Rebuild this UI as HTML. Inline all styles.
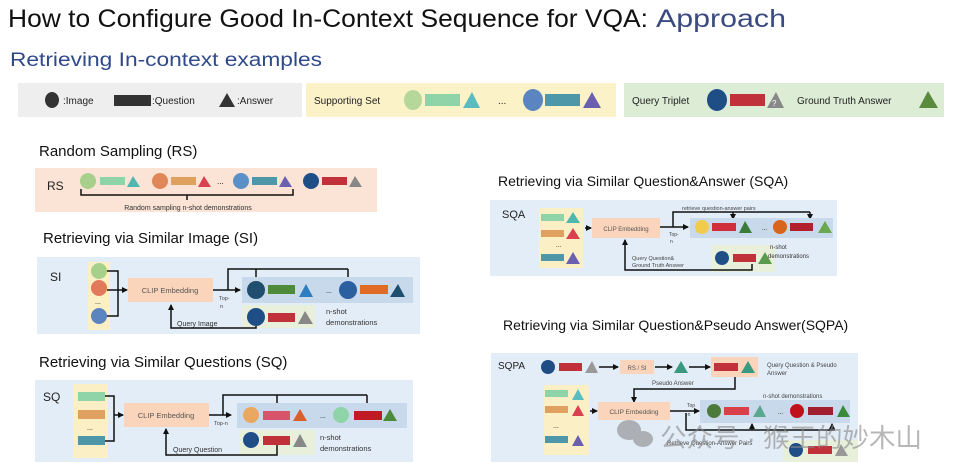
<!DOCTYPE html>
<html><head><meta charset="utf-8"><style>
html,body{margin:0;padding:0;background:#fff;}
svg{display:block;font-family:"Liberation Sans",sans-serif;}
</style></head><body>
<svg width="956" height="475" viewBox="0 0 956 475" xmlns="http://www.w3.org/2000/svg">
<defs><marker id="a" markerWidth="6" markerHeight="6" refX="5" refY="3" orient="auto" markerUnits="userSpaceOnUse"><path d="M0,0L6,3L0,6z" fill="#111"/></marker></defs>
<text x="8" y="27" font-size="25" fill="#111" textLength="640" lengthAdjust="spacingAndGlyphs">How to Configure Good In-Context Sequence for VQA:</text>
<text x="656" y="27" font-size="25" fill="#3b4a80" textLength="130" lengthAdjust="spacingAndGlyphs">Approach</text>
<text x="10" y="66" font-size="19" fill="#2f4a8a" textLength="312" lengthAdjust="spacingAndGlyphs">Retrieving In-context examples</text>
<!-- legend -->
<rect x="18" y="83" width="284" height="34" fill="#eeeeee"/>
<rect x="306" y="83" width="310" height="34" fill="#fbf2c8"/>
<rect x="624" y="83" width="320" height="34" fill="#dcecd5"/>
<g font-size="10" fill="#222">
<ellipse cx="52" cy="100" rx="7" ry="8" fill="#333"/><text x="63" y="104">:Image</text>
<rect x="114" y="95" width="37" height="11" fill="#333"/><text x="152" y="104">:Question</text>
<path d="M219,107L227,93L235,107z" fill="#333"/><text x="237" y="104">:Answer</text>
<text x="314" y="104">Supporting Set</text>
<ellipse cx="413" cy="100" rx="9" ry="10" fill="#b5d89a"/><rect x="425" y="94" width="35" height="12" fill="#8fd4a8"/><path d="M463,108L472,92L480,108z" fill="#5bbcbf"/>
<text x="498" y="104">...</text>
<ellipse cx="533" cy="100" rx="10" ry="11" fill="#5b85c0"/><rect x="545" y="94" width="35" height="12" fill="#4e97a8"/><path d="M583,108L592,92L601,108z" fill="#6b5fb0"/>
<text x="632" y="104">Query Triplet</text>
<ellipse cx="717" cy="100" rx="10" ry="11" fill="#1f4e87"/><rect x="730" y="94" width="35" height="12" fill="#c0313a"/><path d="M767,108L776,92L784,108z" fill="#888"/><text x="772" y="106" font-size="8" fill="#fff">?</text>
<text x="797" y="104">Ground Truth Answer</text>
<path d="M919,108L928,91L938,108z" fill="#5a8a3c"/>
</g>
<!-- RS -->
<text x="39" y="156" font-size="15" fill="#111">Random Sampling (RS)</text>
<rect x="35" y="168" width="342" height="44" fill="#fbe3d5"/>
<text x="47" y="190" font-size="12" fill="#222">RS</text>
<circle cx="88" cy="181" r="8" fill="#a8d08d"/><rect x="100" y="177" width="25" height="8" fill="#8fd4a8"/><path d="M127,187L133,176L140,187z" fill="#4fb7b0"/>
<circle cx="160" cy="181" r="8" fill="#e0875a"/><rect x="171" y="177" width="25" height="8" fill="#e0a060"/><path d="M198,187L204,176L211,187z" fill="#d94050"/>
<text x="217" y="184" font-size="8">...</text>
<circle cx="241" cy="181" r="8" fill="#5b8fc8"/><rect x="252" y="177" width="25" height="8" fill="#4e97a8"/><path d="M279,187L285,176L292,187z" fill="#6b5fb0"/>
<circle cx="311" cy="181" r="8" fill="#1f4e87"/><rect x="322" y="177" width="25" height="8" fill="#c0313a"/><path d="M349,187L355,176L362,187z" fill="#888"/>
<path d="M81,189V195H293V189M187,195V200" stroke="#111" stroke-width="1.5" fill="none"/>
<text x="188" y="210" font-size="7" fill="#333" text-anchor="middle">Random sampling n-shot demonstrations</text>
<!-- SI -->
<text x="43" y="243" font-size="15" fill="#111">Retrieving via Similar Image (SI)</text>
<rect x="37" y="257" width="383" height="77" fill="#e3edf7"/>
<text x="50" y="281" font-size="12" fill="#222">SI</text>
<rect x="88" y="262" width="22" height="68" fill="#fbf0c5"/>
<circle cx="99" cy="271" r="8" fill="#a8d08d"/><circle cx="99" cy="288" r="8" fill="#e07a5a"/><text x="95" y="304" font-size="7">...</text><circle cx="99" cy="316" r="8" fill="#5b85c0"/>
<path d="M107,271H118V316H107M107,290H127" stroke="#111" stroke-width="1.5" fill="none" marker-end="url(#a)"/>
<rect x="128" y="278" width="85" height="24" fill="#fbd5bb"/><text x="170" y="293" font-size="7.5" fill="#555" text-anchor="middle">CLIP Embedding</text>
<path d="M213,290H240" stroke="#111" stroke-width="1.5" marker-end="url(#a)"/>
<path d="M228,290V269H348" stroke="#111" stroke-width="1.5" fill="none"/>
<path d="M256,269V282" stroke="#111" stroke-width="1.5" marker-end="url(#a)"/><path d="M348,269V282" stroke="#111" stroke-width="1.5" marker-end="url(#a)"/>
<text x="219" y="300" font-size="5.5" fill="#444">Top-</text><text x="220" y="308" font-size="5.5" fill="#444">n</text>
<rect x="242" y="277" width="171" height="26" fill="#c9d9ec"/>
<circle cx="256" cy="290" r="9" fill="#1f4e6e"/><rect x="268" y="285" width="27" height="9" fill="#4d8a3a"/><path d="M299,297L306,284L313,297z" fill="#2e7dc0"/>
<text x="326" y="293" font-size="7">...</text>
<circle cx="348" cy="290" r="9" fill="#2a5fa0"/><rect x="360" y="285" width="28" height="9" fill="#e06b25"/><path d="M390,297L398,284L405,297z" fill="#1f4e6e"/>
<rect x="242" y="305" width="73" height="23" fill="#e8f0dc"/>
<circle cx="256" cy="317" r="9" fill="#1f4e87"/><rect x="268" y="313" width="27" height="9" fill="#c0313a"/><path d="M298,324L305,311L313,324z" fill="#888"/>
<path d="M256,326V328H171V305" stroke="#111" stroke-width="1.5" fill="none" marker-end="url(#a)"/>
<text x="177" y="326" font-size="7" fill="#333">Query Image</text>
<text x="326" y="314" font-size="7.5" fill="#333">n-shot</text><text x="326" y="325" font-size="7.5" fill="#333">demonstrations</text>
<!-- SQ -->
<text x="39" y="367" font-size="15" fill="#111">Retrieving via Similar Questions (SQ)</text>
<rect x="35" y="380" width="378" height="82" fill="#e3edf7"/>
<text x="43" y="401" font-size="12" fill="#222">SQ</text>
<rect x="73" y="384" width="35" height="74" fill="#fbf0c5"/>
<rect x="78" y="392" width="27" height="9" fill="#8fd4a8"/><rect x="78" y="410" width="27" height="9" fill="#e0a060"/><text x="87" y="430" font-size="7">...</text><rect x="78" y="436" width="27" height="9" fill="#4e97a8"/>
<path d="M105,396H114V441H105M114,415H123" stroke="#111" stroke-width="1.5" fill="none" marker-end="url(#a)"/>
<rect x="124" y="403" width="85" height="24" fill="#fbd5bb"/><text x="166" y="418" font-size="7.5" fill="#555" text-anchor="middle">CLIP Embedding</text>
<path d="M209,415H231" stroke="#111" stroke-width="1.5" marker-end="url(#a)"/>
<path d="M223,415V395H367" stroke="#111" stroke-width="1.5" fill="none"/>
<path d="M277,395V409" stroke="#111" stroke-width="1.5" marker-end="url(#a)"/><path d="M367,395V409" stroke="#111" stroke-width="1.5" marker-end="url(#a)"/>
<text x="214" y="425" font-size="5.5" fill="#444">Top-n</text>
<rect x="237" y="403" width="170" height="25" fill="#c9d9ec"/>
<circle cx="251" cy="415" r="8" fill="#e8a860"/><rect x="263" y="411" width="27" height="9" fill="#d9536a"/><path d="M293,421L300,409L307,421z" fill="#d9602a"/>
<text x="320" y="418" font-size="7">...</text>
<circle cx="341" cy="415" r="8" fill="#8fd4a8"/><rect x="354" y="411" width="28" height="9" fill="#c01a25"/><path d="M383,421L390,409L397,421z" fill="#4d8a3a"/>
<rect x="240" y="430" width="75" height="25" fill="#e8f0dc"/>
<circle cx="251" cy="440" r="8" fill="#1f4e87"/><rect x="263" y="436" width="27" height="9" fill="#c0313a"/><path d="M293,447L300,434L307,447z" fill="#888"/>
<path d="M277,445V455H166V429" stroke="#111" stroke-width="1.5" fill="none" marker-end="url(#a)"/>
<text x="173" y="452" font-size="7" fill="#333">Query Question</text>
<text x="320" y="440" font-size="7.5" fill="#333">n-shot</text><text x="320" y="451" font-size="7.5" fill="#333">demonstrations</text>
<!-- SQA -->
<text x="498" y="186" font-size="14" fill="#111">Retrieving via Similar Question&amp;Answer (SQA)</text>
<rect x="490" y="200" width="347" height="76" fill="#e3edf7"/>
<text x="502" y="218" font-size="11" fill="#222">SQA</text>
<rect x="539" y="208" width="44" height="60" fill="#fbf0c5"/>
<rect x="541" y="214" width="23" height="7" fill="#8fd4a8"/><path d="M566,223L573,212L580,223z" fill="#4fb7b0"/>
<rect x="541" y="230" width="23" height="7" fill="#e0a060"/><path d="M566,239L573,228L580,239z" fill="#d94050"/>
<text x="556" y="247" font-size="6">...</text>
<rect x="541" y="254" width="23" height="7" fill="#4e97a8"/><path d="M566,264L573,252L580,264z" fill="#6b5fb0"/>
<path d="M585,228H591" stroke="#111" stroke-width="1.5" marker-end="url(#a)"/>
<rect x="592" y="218" width="68" height="20" fill="#fbd5bb"/><text x="626" y="231" font-size="6" fill="#555" text-anchor="middle">CLIP Embedding</text>
<path d="M660,227H688" stroke="#111" stroke-width="1.5" marker-end="url(#a)"/>
<path d="M673,227V212H810" stroke="#111" stroke-width="1.5" fill="none"/>
<path d="M733,212V219" stroke="#111" stroke-width="1.5" marker-end="url(#a)"/><path d="M810,212V219" stroke="#111" stroke-width="1.5" marker-end="url(#a)"/>
<text x="682" y="210" font-size="5.5" fill="#444">retrieve question-answer pairs</text>
<text x="669" y="236" font-size="5" fill="#444">Top-</text><text x="670" y="243" font-size="5" fill="#444">n</text>
<rect x="690" y="218" width="143" height="20" fill="#c9d9ec"/>
<circle cx="702" cy="227" r="7" fill="#f0cc4a"/><rect x="712" y="223" width="24" height="8" fill="#d0303c"/><path d="M739,233L745,221L752,233z" fill="#3a7d3a"/>
<text x="762" y="230" font-size="6">...</text>
<circle cx="780" cy="227" r="7" fill="#d9641e"/><rect x="790" y="223" width="23" height="8" fill="#b0202e"/><path d="M818,233L825,221L832,233z" fill="#6aa84f"/>
<rect x="712" y="245" width="63" height="27" fill="#e8f0dc"/>
<circle cx="722" cy="258" r="7" fill="#1f4e87"/><rect x="733" y="254" width="23" height="8" fill="#c0313a"/><path d="M758,264L765,252L772,264z" fill="#5a9a4f"/>
<path d="M752,264V270H625V240" stroke="#111" stroke-width="1.5" fill="none" marker-end="url(#a)"/>
<text x="632" y="260" font-size="5.5" fill="#444">Query Question&amp;</text><text x="632" y="267" font-size="5.5" fill="#444">Ground Truth Answer</text>
<text x="770" y="249" font-size="6" fill="#333">n-shot</text><text x="768" y="258" font-size="6" fill="#333">demonstrations</text>
<!-- SQPA -->
<text x="503" y="330" font-size="14" fill="#111">Retrieving via Similar Question&amp;Pseudo Answer(SQPA)</text>
<rect x="491" y="353" width="367" height="109" fill="#e3edf7"/>
<text x="498" y="369" font-size="10" fill="#222">SQPA</text>
<circle cx="548" cy="367" r="7" fill="#1f4e87"/><rect x="559" y="363" width="23" height="8" fill="#c0313a"/><path d="M585,373L592,361L598,373z" fill="#999"/>
<path d="M599,367H618" stroke="#111" stroke-width="1.5" marker-end="url(#a)"/>
<rect x="620" y="360" width="34" height="14" fill="#fbd5bb"/><text x="637" y="370" font-size="6" fill="#555" text-anchor="middle">RS / SI</text>
<path d="M655,367H672" stroke="#111" stroke-width="1.5" marker-end="url(#a)"/>
<path d="M674,373L681,361L688,373z" fill="#3a9a80"/>
<path d="M689,367H710" stroke="#111" stroke-width="1.5" marker-end="url(#a)"/>
<rect x="711" y="357" width="47" height="20" fill="#fbd5bb"/><rect x="714" y="363" width="24" height="8" fill="#c0313a"/><path d="M741,373L748,361L755,373z" fill="#3a9a80"/>
<text x="767" y="367" font-size="6" fill="#444">Query Question &amp; Pseudo</text><text x="767" y="375" font-size="6" fill="#444">Answer</text>
<path d="M735,377V389H634V402" stroke="#111" stroke-width="1.5" fill="none" marker-end="url(#a)"/>
<text x="652" y="385" font-size="6" fill="#444">Pseudo Answer</text>
<rect x="544" y="385" width="45" height="70" fill="#fbf0c5"/>
<rect x="545" y="390" width="23" height="7" fill="#8fd4a8"/><path d="M572,400L578,389L584,400z" fill="#5bbcbf"/>
<rect x="545" y="406" width="23" height="7" fill="#e0a060"/><path d="M572,416L578,405L584,416z" fill="#d94050"/>
<text x="553" y="428" font-size="7">...</text>
<rect x="545" y="436" width="23" height="7" fill="#4e97a8"/><path d="M572,446L578,435L584,446z" fill="#6b5fb0"/>
<path d="M590,411H597" stroke="#111" stroke-width="1.5" marker-end="url(#a)"/>
<rect x="598" y="402" width="72" height="18" fill="#fbd5bb"/><text x="634" y="414" font-size="6.5" fill="#555" text-anchor="middle">CLIP Embedding</text>
<path d="M670,411H699" stroke="#111" stroke-width="1.5" marker-end="url(#a)"/>
<text x="687" y="407" font-size="5" fill="#444">Top</text><text x="686" y="416" font-size="5" fill="#444">-n</text>
<path d="M686,413V430H835" stroke="#111" stroke-width="1.5" fill="none"/>
<path d="M752,430V424" stroke="#111" stroke-width="1.5" marker-end="url(#a)"/><path d="M832,430V424" stroke="#111" stroke-width="1.5" marker-end="url(#a)"/>
<text x="667" y="445" font-size="6" fill="#444">Retrieve Question-Answer Pairs</text>
<text x="763" y="398" font-size="6" fill="#444">n-shot demonstrations</text>
<rect x="700" y="400" width="150" height="23" fill="#c9d9ec"/>
<circle cx="714" cy="411" r="7" fill="#4d7a3a"/><rect x="724" y="407" width="25" height="8" fill="#d9404a"/><path d="M753,417L760,405L766,417z" fill="#5aa890"/>
<text x="778" y="414" font-size="6">...</text>
<circle cx="797" cy="411" r="7" fill="#c0101a"/><rect x="808" y="407" width="25" height="8" fill="#a02030"/><path d="M837,417L843,405L850,417z" fill="#3a8a3a"/>
<rect x="783" y="440" width="75" height="22" fill="#e8f0dc"/>
<circle cx="796" cy="450" r="7" fill="#1f4e87"/><rect x="808" y="446" width="24" height="8" fill="#c0313a"/><path d="M835,456L841,444L848,456z" fill="#999"/>
<!-- watermark -->
<g opacity="0.6" fill="#888">
<ellipse cx="629" cy="430" rx="12" ry="10"/><ellipse cx="643" cy="439" rx="10" ry="8"/>
<text x="660" y="447" font-size="26" textLength="262" lengthAdjust="spacingAndGlyphs" font-family="'Liberation Sans','Noto Sans CJK SC',sans-serif">公众号 · 猴王的妙木山</text>
</g>
</svg>
</body></html>
